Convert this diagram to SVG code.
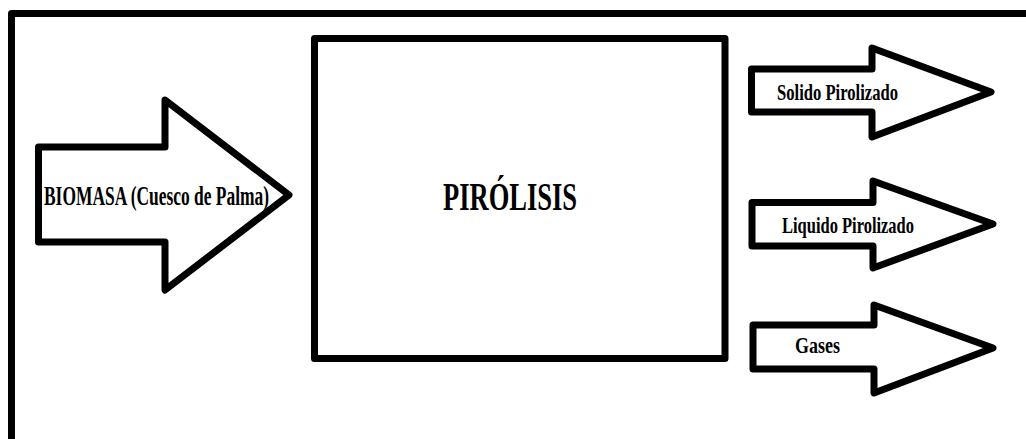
<svg xmlns="http://www.w3.org/2000/svg" width="1026" height="439" viewBox="0 0 1026 439">
<style>
.shape{fill:#fff;stroke:#000;stroke-width:7;stroke-linejoin:round}
.frame{fill:none;stroke:#000;stroke-width:7;stroke-linejoin:round}
.lbl{font-family:"Liberation Serif","Times New Roman",serif;font-weight:bold;fill:#000}
</style>
<rect width="1026" height="439" fill="#fff"/>
<path class="frame" d="M11.5 439 V13.5 H1026"/>
<g id="connectors">
<g id="biomasa">
<path class="shape" d="M38.5 147 H165 V100 L289 195 L165 290 V242 H38.5 Z"/>
<text class="lbl" x="44" y="205" font-size="27" textLength="225" lengthAdjust="spacingAndGlyphs">BIOMASA (Cuesco de Palma)</text>
</g>
<g id="solido">
<path class="shape" d="M751.5 69 H872 V48 L991 92 L872 137 V112 H751.5 Z"/>
<text class="lbl" x="777" y="99.5" font-size="24" textLength="121" lengthAdjust="spacingAndGlyphs">Solido Pirolizado</text>
</g>
<g id="liquido">
<path class="shape" d="M752 202.5 H873 V181 L993 224 L873 268 V246 H752 Z"/>
<text class="lbl" x="782" y="232.5" font-size="24" textLength="132" lengthAdjust="spacingAndGlyphs">Liquido Pirolizado</text>
</g>
<g id="gases">
<path class="shape" d="M753 325 H874 V305 L993 348 L874 393 V369 H753 Z"/>
<text class="lbl" x="795" y="353" font-size="24" textLength="45" lengthAdjust="spacingAndGlyphs">Gases</text>
</g>
</g>
<g id="pirolisis">
<rect class="shape" x="314.5" y="38.5" width="410.5" height="320" stroke-width="7.5"/>
<text class="lbl" x="443" y="210" font-size="41" textLength="134" lengthAdjust="spacingAndGlyphs">PIRÓLISIS</text>
</g>
</svg>
